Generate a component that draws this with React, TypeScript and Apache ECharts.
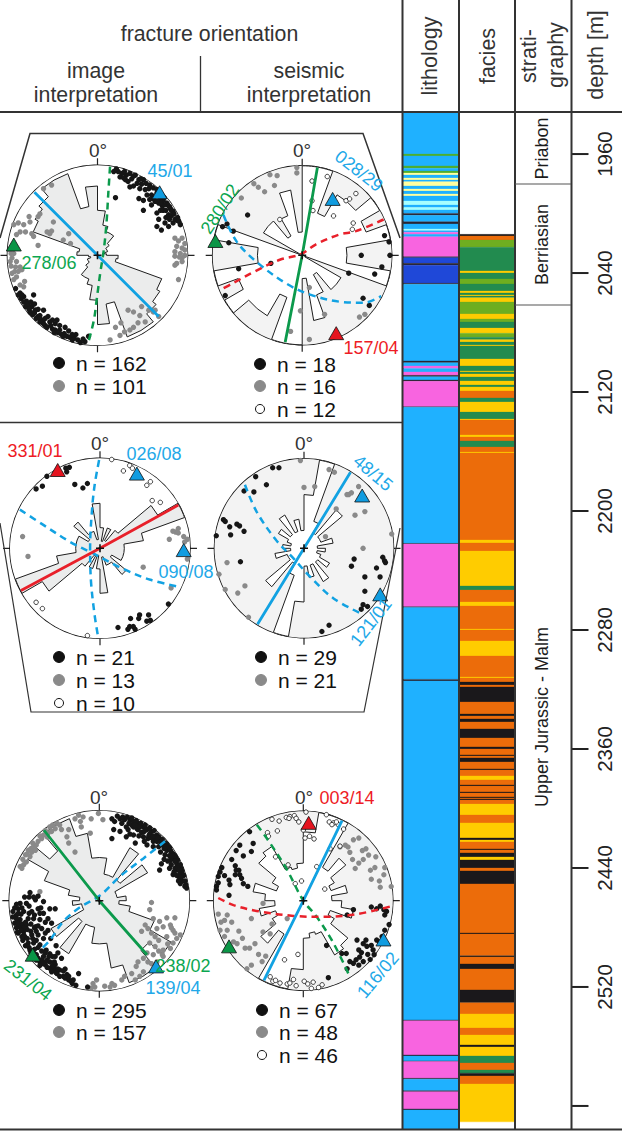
import React, { useEffect, useRef } from "react";
import * as echarts from "echarts";

const FONT = "Liberation Sans";
const TICK_DEPTHS = [1960, 2040, 2120, 2200, 2280, 2360, 2440, 2520, 2600];
const LABEL_DEPTHS = [1960, 2040, 2120, 2200, 2280, 2360, 2440, 2520];
const DEPTH_TOP = 1932.4;
const DEPTH_BOTTOM = 2615.5;

const LITHO_COLORS: Record<string, string> = { b: "#1fb1ff", g: "#4fae2f", y: "#ffffa0", c: "#a6ffff", p: "#f864e0", r: "#1f48d8", k: "#2a2633" };
const FACIES_COLORS: Record<string, string> = { o: "#ec6c0a", l: "#6eae20", d: "#228b4f", y: "#ffcc00", k: "#1a181b" };

const lithology: [number, number, string][] = [
  [1932.4, 1960, "b"], [1960, 1961.3, "g"], [1961.3, 1968, "b"], [1968, 1969.6, "g"], [1969.6, 1971.4, "b"], [1971.4, 1972.8, "g"],
  [1972.8, 1974.1, "y"], [1974.1, 1976.1, "b"], [1976.1, 1977.5, "y"], [1977.5, 1978.6, "b"], [1978.6, 1981.5, "y"], [1981.5, 1983.5, "b"],
  [1983.5, 1984.9, "y"], [1984.9, 1986.9, "b"], [1986.9, 1988.2, "y"], [1988.2, 1991.6, "b"], [1991.6, 1994.3, "c"], [1994.3, 1996, "b"],
  [1996, 1997.6, "c"], [1997.6, 1999.9, "b"], [1999.9, 2001.2, "k"], [2001.2, 2005.5, "b"], [2005.5, 2007, "k"], [2007, 2010.4, "b"],
  [2010.4, 2011.5, "c"], [2011.5, 2012.6, "b"], [2012.6, 2014, "p"], [2014, 2015.6, "b"], [2015.6, 2029, "p"], [2029, 2029.7, "k"],
  [2029.7, 2033.5, "r"], [2033.5, 2034.8, "k"], [2034.8, 2046.9, "r"], [2046.9, 2047.6, "k"], [2047.6, 2099.1, "b"], [2099.1, 2100.3, "k"],
  [2100.3, 2102.5, "b"], [2102.5, 2104.1, "p"], [2104.1, 2106.5, "b"], [2106.5, 2108.8, "p"], [2108.8, 2109.7, "k"], [2109.7, 2111.9, "b"],
  [2111.9, 2112.8, "k"], [2112.8, 2129.9, "p"], [2129.9, 2130.3, "k"], [2130.3, 2221.8, "b"], [2221.8, 2222.2, "k"], [2222.2, 2264.3, "p"],
  [2264.3, 2264.8, "k"], [2264.8, 2313.2, "b"], [2313.2, 2314.3, "k"], [2314.3, 2542.2, "b"], [2542.2, 2542.8, "k"], [2542.8, 2565.7, "p"],
  [2565.7, 2566.4, "k"], [2566.4, 2569.7, "b"], [2569.7, 2570.2, "k"], [2570.2, 2581.4, "p"], [2581.4, 2582, "k"], [2582, 2589.7, "b"],
  [2589.7, 2590.4, "k"], [2590.4, 2602, "p"], [2602, 2602.7, "k"], [2602.7, 2615.5, "b"],
];

const facies: [number, number, string][] = [
  [2014, 2015.1, "k"], [2015.1, 2017.8, "o"], [2017.8, 2022.7, "l"], [2022.7, 2038.6, "d"], [2038.6, 2040, "y"], [2040, 2044, "d"],
  [2044, 2047.4, "l"], [2047.4, 2052.1, "d"], [2052.1, 2053.4, "y"], [2053.4, 2054.8, "d"], [2054.8, 2055.5, "y"], [2055.5, 2056.6, "d"],
  [2056.6, 2059.5, "y"], [2059.5, 2067.5, "l"], [2067.5, 2070.9, "y"], [2070.9, 2072.9, "l"], [2072.9, 2077, "d"], [2077, 2080.5, "y"],
  [2080.5, 2083.2, "l"], [2083.2, 2084.8, "d"], [2084.8, 2086.4, "y"], [2086.4, 2088.4, "d"], [2088.4, 2089, "y"], [2089, 2097.8, "d"],
  [2097.8, 2102.5, "y"], [2102.5, 2105.9, "d"], [2105.9, 2106.5, "y"], [2106.5, 2107.9, "d"], [2107.9, 2109.9, "y"], [2109.9, 2112.6, "d"],
  [2112.6, 2115.3, "y"], [2115.3, 2116.6, "d"], [2116.6, 2119.3, "y"], [2119.3, 2124, "o"], [2124, 2126.7, "d"], [2126.7, 2133.5, "y"],
  [2133.5, 2138.2, "d"], [2138.2, 2138.8, "y"], [2138.8, 2148.9, "o"], [2148.9, 2150.3, "y"], [2150.3, 2152.9, "o"], [2152.9, 2157, "d"],
  [2157, 2160.4, "o"], [2160.4, 2161, "y"], [2161, 2219.5, "o"], [2219.5, 2221.5, "y"], [2221.5, 2226.9, "o"], [2226.9, 2250.4, "y"],
  [2250.4, 2253.1, "d"], [2253.1, 2261.2, "o"], [2261.2, 2263.9, "y"], [2263.9, 2279.4, "o"], [2279.4, 2280, "y"], [2280, 2287.4, "o"],
  [2287.4, 2297.5, "y"], [2297.5, 2311.6, "o"], [2311.6, 2312.3, "y"], [2312.3, 2315, "o"], [2315, 2317, "k"], [2317, 2318.3, "o"],
  [2318.3, 2328.4, "k"], [2328.4, 2336.5, "o"], [2336.5, 2337.8, "k"], [2337.8, 2339.8, "o"], [2339.8, 2341.8, "k"], [2341.8, 2346.5, "o"],
  [2346.5, 2352.6, "k"], [2352.6, 2358.6, "o"], [2358.6, 2360, "k"], [2360, 2364, "o"], [2364, 2364.7, "k"], [2364.7, 2366, "o"],
  [2366, 2368.7, "k"], [2368.7, 2373.4, "o"], [2373.4, 2374.1, "k"], [2374.1, 2378.1, "o"], [2378.1, 2380.8, "y"], [2380.8, 2384.2, "o"],
  [2384.2, 2384.9, "k"], [2384.9, 2388.9, "o"], [2388.9, 2389.6, "k"], [2389.6, 2392.3, "o"], [2392.3, 2392.9, "k"], [2392.9, 2393.6, "o"],
  [2393.6, 2394.3, "k"], [2394.3, 2397, "o"], [2397, 2404.4, "y"], [2404.4, 2409.7, "o"], [2409.7, 2419.8, "y"], [2419.8, 2421.2, "k"],
  [2421.2, 2422.5, "y"], [2422.5, 2427.2, "o"], [2427.2, 2427.9, "k"], [2427.9, 2429.9, "o"], [2429.9, 2432.6, "k"], [2432.6, 2434.6, "y"],
  [2434.6, 2440, "k"], [2440, 2442, "o"], [2442, 2450.7, "k"], [2450.7, 2483.7, "o"], [2483.7, 2484.4, "k"], [2484.4, 2499.1, "o"],
  [2499.1, 2499.8, "k"], [2499.8, 2504.5, "o"], [2504.5, 2507.9, "k"], [2507.9, 2522, "o"], [2522, 2530.7, "k"], [2530.7, 2538.1, "o"],
  [2538.1, 2547.6, "y"], [2547.6, 2552.3, "o"], [2552.3, 2559, "y"], [2559, 2560.3, "k"], [2560.3, 2566.4, "y"], [2566.4, 2571.1, "d"],
  [2571.1, 2575.8, "o"], [2575.8, 2578, "d"], [2578, 2579.8, "k"], [2579.8, 2585.2, "o"], [2585.2, 2610.7, "y"],
];

const stratigraphy: [number, number, string][] = [
  [1932.4, 1980.2, "Priabon"], [1980.2, 2061.5, "Berriasian"], [2061.5, 2615.5, "Upper Jurassic - Malm"],
];

// Rose petals: radius (fraction of the rim) per 10 degree bin, 0-180, repeated for 180-360.
const rose1 = [.5, .34, .28, .28, .17, .12, .12, .08, .1, .23, .21, .76, .8, .85, .965, .965, .55, .77];
const rose2 = [1.1, 1.1, .5, .78, .78, 1.1, .76, 1.1, .5, .5, 1.1, .03, .5, .5, .25, .47, .74, .26];
const rose3 = [.23, .08, .24, .1, .26, .74, 1, .49, .27, .27, .27, .27, .15, .38, .2, .2, .1, .5];
const rose4 = [.6, 1.1, .32, .2, .56, .2, .2, .33, .15, .24, .15, .2, .33, .2, .43, .2, .33, .2];
const rose5 = [.48, .3, .3, .68, .3, .62, .2, .2, .3, .22, .35, .65, .92, .72, .97, .97, .76, .48];
const rose6 = [.77, 1.1, 1.1, .43, .62, .4, .33, .5, .32, .43, .57, .32, .4, .65, .7, .4, .37, .42];

// Poles: [east, north] with rim = 100.
const net1Black = [[18,93],[23,93],[27,91],[32,89],[25,87],[31,84],[34,82],[42,89],[36,76],[40,77],[51,84],[47,74],[53,73],[57,74],[46,63],[55,67],[51,61],[60,67],[66,69],[70,63],[73,61],[68,58],[77,58],[81,52],[60,56],[51,50],[66,47],[73,50],[79,45],[84,49],[88,39],[92,34],[75,36],[66,32],[71,28],[79,32],[84,36],[20,64],[64,60],[72,55],[76,50],[62,63],[58,62],[70,50],[82,44],[86,40],[69,66],[44,80],[38,85],[29,86],[49,79],
  [21,96],[30,93],[36,91],[40,88],[46,84],[48,85],[54,80],[58,78],[62,75],[66,73],[70,68],[74,64],[78,56],[82,50],[85,46],[89,42],[90,38],[80,54],[74,56],[70,58],[66,60],[76,42],[68,40],[80,40],
  [-91,-37],[-86,-42],[-82,-46],[-85,-48],[-79,-51],[-80,-57],[-73,-57],[-75,-63],[-69,-61],[-66,-68],[-60,-61],[-71,-44],[-64,-67],[-53,-74],[-42,-83],[-31,-91],[-19,-97],[-47,-83],[-58,-78],[-69,-61],[-77,-56],[-37,-87],[-26,-92],[-14,-96],[-47,-76],[-60,-72],[-55,-68],[-45,-72],[-36,-80],[-66,-60],[-72,-66],[-68,-70],[-62,-74],[-50,-82],[-40,-88],[-32,-84],[-24,-88],[-10,-90],
  [-88,-44],[-84,-44],[-82,-52],[-78,-54],[-76,-60],[-74,-64],[-70,-64],[-64,-70],[-60,-76],[-56,-80],[-52,-78],[-48,-86],[-44,-86],[-38,-90],[-34,-90],[-28,-94],[-22,-94],[-16,-93],[-64,-74],[-58,-70],[-50,-72],[-42,-78],[-28,-88],[-74,-52],[-70,-54]];
const net1Grey = [[-93,34],[-88,36],[-82,34],[-76,43],[-75,37],[-66,43],[-64,46],[-86,26],[-80,26],[-73,24],[-71,21],[-90,23],[-66,11],[-60,74],[-51,78],[-49,37],[-56,26],[-51,27],[-53,24],[-38,17],[-32,24],[-30,13],[-97,6],[-93,2],[-95,-3],[-97,-7],[-90,-7],[-91,-13],[-86,-13],[-95,-20],[-90,-24],[-84,-16],[-93,-27],[-81,-29],[-86,-33],[-82,-35],
  [86,19],[94,19],[97,13],[88,10],[94,8],[97,6],[86,4],[92,2],[97,0],[94,-3],[86,-1],[88,-9],[94,-7],[90,-27],[86,-11],[34,-61],[40,-63],[49,-57],[57,-61],[62,-63],[68,-68],[47,-67],[64,-61],[25,-89],[36,-83],[14,-94],[53,-74],[20,-80],[26,-75],[30,-85],[45,-75],[40,-80],[-96,-12],[-92,-18],[-88,-18],[-92,8],[-96,2],[90,16],[91,-2]];
const net2Black = [[-61,45],[-89,32],[-84,35],[-77,27],[-82,14],[-71,-15],[-35,-9],[-86,-45],[52,-20],[66,0],[81,-21],[89,-13],[92,22],[97,15],[98,0],[68,-48],[75,-56]];
const net2Grey = [[-36,90],[-28,89],[-54,80],[-49,76],[-42,71],[-31,78],[-68,64],[-6,98],[-6,92],[8,-36],[-2,-62],[25,-66],[64,-69],[70,-66],[-13,-85],[8,-94]];
const net2White = [[11,83],[28,88],[11,61],[12,50],[-25,40],[35,44],[49,61],[53,63],[60,69],[57,36],[56,29]];
const net3Black = [[-38,89],[-37,85],[-59,80],[-71,66],[-64,69],[-28,71],[-19,67],[-14,72],[20,-88],[31,-90],[34,-78],[39,-90],[37,-87],[44,-74],[43,-78],[52,-81],[54,-74],[56,-80],[76,-62],[33,-87],[-34,90]];
const net3Grey = [[-86,13],[-80,-9],[87,22],[84,18],[93,13],[77,10],[97,10],[97,-12],[48,-21],[79,-44],[87,17],[94,7],[81,19]];
const net3White = [[13,99],[26,86],[33,92],[36,89],[52,70],[56,74],[58,53],[67,51],[-71,-60],[-64,-67],[-14,-97]];
const net4Black = [[-35,90],[-28,90],[-54,80],[-42,71],[-67,64],[-56,63],[-90,32],[-88,30],[-83,24],[-75,27],[-72,25],[-98,14],[-82,15],[-67,19],[-71,-15],[56,-12],[53,-20],[81,-22],[88,-10],[90,-14],[91,-16],[68,-32],[85,-32],[68,-48],[66,-63],[64,-68],[71,-65],[28,-86],[20,-93]];
const net4Grey = [[-4,98],[28,88],[34,85],[0,68],[12,69],[61,69],[50,60],[53,62],[68,41],[57,37],[36,44],[24,13],[66,0],[98,16],[-86,-16],[-95,-29],[-88,-46],[-74,-50],[-66,-42],[-62,-77],[48,60]];
const net5Black = [[14,91],[17,88],[23,91],[28,90],[34,90],[38,88],[43,86],[49,82],[53,79],[58,77],[64,73],[67,69],[73,64],[77,60],[80,54],[82,47],[86,41],[91,36],[93,29],[95,16],[97,14],[16,79],[23,77],[14,69],[30,71],[32,79],[38,73],[40,64],[43,79],[49,71],[54,69],[53,62],[60,66],[66,60],[73,51],[69,41],[67,34],[79,45],[84,36],[82,29],[88,27],[86,34],[90,19],[38,82],[25,86],[55,72],[62,68],[70,62],[75,56],[78,50],[47,76],[36,84],[30,82],[42,80],[58,70],[64,66],[72,58],[85,48],[88,38],[90,30],[92,22],[86,28],[80,40],[76,44],
  [20,94],[26,93],[31,93],[36,92],[41,89],[46,86],[51,84],[56,81],[61,78],[66,71],[70,68],[75,63],[78,59],[82,52],[84,50],[87,45],[90,40],[92,33],[94,28],[95,22],[96,18],[33,86],[40,84],[45,82],[50,77],[56,74],[60,72],[65,70],[68,65],[74,60],[79,56],[81,50],[84,44],[87,36],[89,34],[91,26],[88,22],[83,32],[78,36],[72,46],[68,54],[60,60],[50,66],[44,72],[34,74],
  [-83,4],[-73,4],[-71,1],[-88,-3],[-81,-3],[-62,-1],[-55,-9],[-49,-9],[-96,-12],[-92,-16],[-84,-12],[-75,-12],[-68,-9],[-62,-14],[-57,-20],[-53,-25],[-66,-21],[-73,-20],[-79,-20],[-88,-21],[-94,-25],[-96,-18],[-88,-29],[-81,-27],[-71,-29],[-64,-31],[-57,-33],[-90,-36],[-83,-40],[-75,-38],[-68,-38],[-62,-42],[-79,-47],[-73,-47],[-66,-49],[-59,-55],[-55,-59],[-77,-55],[-70,-60],[-62,-62],[-55,-68],[-49,-71],[-44,-77],[-40,-84],[-34,-88],[-29,-88],[-23,-81],[-49,-62],[-42,-64],[-66,-68],[-60,-71],[-55,-75],[-47,-81],[-31,-90],[-13,-96],[-90,-9],[-78,-6],[-65,-8],[-87,-15],[-80,-32],[-70,-34],[-60,-36],[-92,-30],[-85,-44],[-72,-54],[-74,-62],[-68,-52],[-64,-56],[-58,-66],[-52,-62],[-50,-76],[-38,-76],[-36,-82],[-92,-24],[-78,4],[-68,5],[-77,9],[-84,-34],
  [-92,-4],[-94,-8],[-90,-14],[-86,-8],[-92,-20],[-86,-26],[-90,-26],[-84,-30],[-87,-33],[-91,-35],[-84,-38],[-80,-42],[-86,-40],[-82,-50],[-78,-52],[-76,-58],[-72,-60],[-68,-64],[-70,-66],[-64,-66],[-60,-68],[-62,-70],[-66,-72],[-58,-74],[-52,-72],[-53,-79],[-48,-80],[-46,-76],[-44,-84],[-38,-86],[-40,-78],[-34,-84],[-30,-92],[-26,-94],[-56,-62],[-60,-58],[-70,-44],[-74,-42],[-76,-34],[-72,-30],[-68,-28],[-76,-26],[-82,-24],[-78,-14],[-72,-16],[-66,-14],[-60,-24],[-54,-42],[-48,-50],[-46,-58],[-50,-68]];
const net5Grey = [[-23,95],[-18,93],[-21,88],[-27,91],[-1,97],[-9,91],[4,90],[-10,75],[-20,82],[-34,79],[-36,71],[-34,64],[-27,54],[-55,82],[-49,80],[-53,77],[-57,75],[-62,73],[-68,66],[-64,69],[-73,60],[-70,62],[-79,56],[-75,54],[-82,51],[-84,40],[-81,43],[-88,38],[-86,36],[-47,86],[-66,10],[-42,79],[-58,71],[-71,56],[-77,49],
  [58,-2],[56,-10],[60,-20],[75,-19],[84,-19],[67,-23],[71,-29],[79,-27],[51,-27],[54,-31],[64,-31],[82,-33],[90,-38],[47,-34],[58,-36],[75,-40],[86,-42],[66,-44],[82,-47],[79,-53],[71,-55],[56,-47],[62,-51],[53,-58],[49,-64],[54,-68],[43,-68],[41,-73],[49,-79],[64,-68],[71,-62],[36,-81],[28,-84],[25,-88],[40,-88],[14,-92],[17,-94],[-3,-88],[-7,-92],[-5,-96],[6,-95],[12,-96],[-9,-97],[45,-84],[70,-60],[76,-48],[84,-36],[60,-60],[58,-70],[66,-56],[80,-30],[62,-40],[-60,78],[-66,72],[-74,64],[-80,52],[-52,84],[-44,84],[-76,58],[-85,46]];
const net6Black = [[-60,77],[-71,62],[-75,56],[-67,50],[-56,64],[-58,55],[-80,46],[-76,39],[-91,37],[-93,32],[-95,27],[-75,34],[-72,34],[-71,29],[-76,29],[-69,25],[-67,19],[-62,16],[-83,23],[-82,18],[-83,6],[-97,16],[-97,12],[82,-9],[76,-7],[90,-10],[91,-16],[56,-10],[49,-16],[26,-50],[43,-59],[48,-59],[60,-44],[67,-48],[62,-55],[71,-51],[76,-50],[82,-44],[88,-40],[91,-33],[97,-27],[63,-63],[56,-70],[62,-72],[67,-68],[75,-66],[80,-61],[49,-76],[28,-86],[-95,20],[-88,28],[86,-6],[93,-12],[72,-60],[59,-66],[65,-58],[52,-68],[78,-55],[85,-46],[70,-44]];
const net6Grey = [[56,68],[62,70],[50,60],[41,60],[70,58],[55,46],[67,46],[73,51],[81,49],[58,36],[75,34],[80,37],[91,37],[90,29],[76,24],[86,15],[99,16],[-95,-15],[-85,-16],[-58,-20],[-45,-3],[-18,-20],[-93,-33],[-85,-33],[-88,-40],[-74,-48],[-65,-53],[-54,-48],[-60,-53],[-58,-72],[-63,-76],[-35,-26],[-37,-37],[-45,-35],[66,56],[62,42],[47,62],[52,54],[-72,-34],[-92,-24],[-50,-60],[-78,-46],[-68,-42],[85,22],[-80,-24],[-88,-22],[-42,-62],[-46,-68]];
const net6White = [[-35,91],[-27,89],[-19,93],[-15,94],[-10,95],[-8,92],[3,99],[26,97],[29,88],[34,87],[39,85],[45,80],[-40,76],[-39,72],[-29,78],[0,79],[2,70],[7,72],[12,69],[30,58],[41,61],[-31,49],[-17,40],[-9,19],[-2,22],[15,38],[24,13],[-6,-60],[-21,-66],[-34,-90],[-31,-89],[-18,-93],[-15,-92],[1,-90],[-8,-95],[9,-98],[17,-97],[21,-94],[37,88],[32,85],[-16,92],[-5,88],[3,83],[-37,-85],[-26,-92],[5,-93],[11,-91],[-11,-88]];

// Great circles: [east, north] along each trace.
const net1Blue = [[-70,70],[0,0],[68,-68]];
const net1Green = [[14,99],[12,69],[10,36],[7,6],[3,-20],[-1,-50],[-4,-72],[-10,-96]];
const net2Green = [[17,98],[0,0],[-19,-97]];
const net2Red = [[91,40],[60,27],[41,23],[15,12],[-2,1],[-25,-5],[-53,-18],[-77,-31],[-92,-39]];
const net2BlueCurve = [[-88,45],[-73,15],[-49,-9],[-17,-32],[9,-44],[43,-52],[69,-53],[89,-46]];
const net3Red = [[87,48],[0,0],[-88,-47]];
const net3BlueA = [[-1,98],[-6,70],[-9,41],[-11,0],[-10,-37],[-6,-74],[-2,-99]];
const net3BlueB = [[-89,43],[-63,26],[-33,7],[-7,-6],[26,-23],[56,-35],[89,-43]];
const net4Blue = [[52,85],[0,0],[-52,-85]];
const net4BlueCurve = [[-66,71],[-53,41],[-31,9],[-12,-11],[7,-32],[33,-56],[66,-74]];
const net5Green = [[-62,79],[0,0],[53,-60]];
const net5BlueCurve = [[73,66],[49,47],[23,27],[1,6],[-21,-7],[-40,-23],[-55,-44],[-66,-55]];
const net6Blue = [[44,91],[0,0],[-44,-89]];
const net6GreenCurve = [[-52,85],[-41,70],[-19,36],[0,0],[15,-18],[34,-48],[52,-85]];
const net6Red = [[-95,3],[-78,-5],[-49,-12],[-11,-17],[22,-18],[60,-15],[99,-6]];

const BLUE = "#12a2e2", GREEN = "#0c9a4c", RED = "#e8202a";
const TRI_BLUE = "#109ce0", TRI_GREEN = "#0a9546", TRI_RED = "#e5141f";
const TXT_BLUE = "#22a8e8", TXT_GREEN = "#0ca650", TXT_RED = "#ee1c25";

type Pt = number[];
const nets = [
  { center: [97.5, 255.3], radius: 90, rose: rose1, disc: "#ffffff", fill: "#ebecec", black: net1Black, grey: net1Grey, white: [] as Pt[],
    lines: [{ d: net1Green, c: GREEN, dash: true }, { d: net1Blue, c: BLUE, dash: false }],
    tris: [[69, 70, TRI_BLUE], [-93, 12, TRI_GREEN]] },
  { center: [302.2, 255.3], radius: 89.5, rose: rose2, disc: "#f3f3f3", fill: "#ffffff", black: net2Black, grey: net2Grey, white: net2White,
    lines: [{ d: net2Green, c: GREEN, dash: false }, { d: net2Red, c: RED, dash: true }, { d: net2BlueCurve, c: BLUE, dash: true }],
    tris: [[34, 63, TRI_BLUE], [-97, 16, TRI_GREEN], [38, -87, TRI_RED]] },
  { center: [100, 548.3], radius: 90, rose: rose3, disc: "#ffffff", fill: "#ebecec", black: net3Black, grey: net3Grey, white: net3White,
    lines: [{ d: net3BlueA, c: BLUE, dash: true }, { d: net3BlueB, c: BLUE, dash: true }, { d: net3Red, c: RED, dash: false }],
    tris: [[-47, 87, TRI_RED], [41, 83, TRI_BLUE], [93, -2, TRI_BLUE]] },
  { center: [304, 548.3], radius: 89.5, rose: rose4, disc: "#f3f3f3", fill: "#ffffff", black: net4Black, grey: net4Grey, white: [] as Pt[],
    lines: [{ d: net4BlueCurve, c: BLUE, dash: true }, { d: net4Blue, c: BLUE, dash: false }],
    tris: [[65, 59, TRI_BLUE], [86, -52, TRI_BLUE]] },
  { center: [99.3, 900.7], radius: 90, rose: rose5, disc: "#ffffff", fill: "#ebecec", black: net5Black, grey: net5Grey, white: [] as Pt[],
    lines: [{ d: net5BlueCurve, c: BLUE, dash: true }, { d: net5Green, c: GREEN, dash: false }],
    tris: [[63, -73, TRI_BLUE], [-74, -60, TRI_GREEN]] },
  { center: [303.3, 900.7], radius: 89.5, rose: rose6, disc: "#f3f3f3", fill: "#ffffff", black: net6Black, grey: net6Grey, white: net6White,
    lines: [{ d: net6GreenCurve, c: GREEN, dash: true }, { d: net6Red, c: RED, dash: true }, { d: net6Blue, c: BLUE, dash: false }],
    tris: [[6, 87, TRI_RED], [91, -44, TRI_BLUE], [-83, -51, TRI_GREEN]] },
];

const headerTexts: [string, number, number, number, number][] = [
  ["fracture orientation", 209.5, 34, 21.3, 0], ["image", 96, 71, 21.3, 0], ["interpretation", 96, 95, 21.3, 0],
  ["seismic", 309, 71, 21.3, 0], ["interpretation", 309, 95, 21.3, 0],
  ["lithology", 430, 56, 21.5, 90], ["facies", 488, 56, 21.5, 90], ["strati-", 529, 56, 21.5, 90], ["graphy", 556, 55, 21.5, 90], ["depth [m]", 596, 55, 21.5, 90],
];
const zeroLabels = [[98, 150], [302, 150], [100, 443], [304, 443], [99, 797], [304, 797]];
const attitudeLabels: [string, number, number, string, number][] = [
  ["45/01", 170, 171, TXT_BLUE, 0], ["278/06", 49, 263, TXT_GREEN, 0], ["028/29", 359, 171, TXT_BLUE, -38], ["280/02", 220, 209, TXT_GREEN, 57], ["157/04", 371, 348, TXT_RED, 0],
  ["331/01", 35, 451, TXT_RED, 0], ["026/08", 154, 454, TXT_BLUE, 0], ["090/08", 186, 572, TXT_BLUE, 0], ["48/15", 373, 473, TXT_BLUE, -40], ["121/01", 371, 622, TXT_BLUE, 52],
  ["231/04", 28, 980, TXT_GREEN, -38], ["139/04", 173, 988, TXT_BLUE, 0], ["238/02", 183, 966, TXT_GREEN, 0], ["003/14", 347, 798, TXT_RED, 0], ["116/02", 378, 975, TXT_BLUE, 50],
];
const countLabels: [string, number, number, string][] = [
  ["n = 162", 76, 363, "#111"], ["n = 101", 76, 386, "#8a8a8a"],
  ["n = 18", 277, 364, "#111"], ["n = 16", 277, 386, "#8a8a8a"], ["n = 12", 277, 409, "#fff"],
  ["n = 21", 76, 657, "#111"], ["n = 13", 76, 680, "#8a8a8a"], ["n = 10", 76, 703, "#fff"],
  ["n = 29", 278, 657, "#111"], ["n = 21", 278, 680, "#8a8a8a"],
  ["n = 295", 76, 1010, "#111"], ["n = 157", 76, 1032, "#8a8a8a"],
  ["n = 67", 279, 1010, "#111"], ["n = 48", 279, 1032, "#8a8a8a"], ["n = 46", 279, 1055, "#fff"],
];

const polarOf = (p: Pt) => {
  const r = Math.min(Math.hypot(p[0], p[1]), 99.5);
  const az = ((Math.atan2(p[0], p[1]) * 180) / Math.PI + 360) % 360;
  return [r, az];
};

function buildOption() {
  const series: any[] = [];
  const band = (name: string, rows: [number, number, string][], col: number, colors: Record<string, string>) => ({
    type: "custom", name, coordinateSystem: "cartesian2d", xAxisIndex: 0, yAxisIndex: 0, silent: true, clip: false, z: 2,
    encode: { y: [0, 1] }, data: rows.map((r) => [r[0], r[1]]),
    renderItem: (params: any, api: any) => {
      const a = api.coord([col, api.value(0)]);
      const b = api.coord([col + 1, api.value(1)]);
      const fill = colors[rows[params.dataIndex][2]];
      return { type: "rect", shape: { x: a[0], y: a[1], width: b[0] - a[0], height: b[1] - a[1] }, style: { fill, stroke: fill, lineWidth: 0.3 } };
    },
  });
  series.push(band("lithology", lithology, 0, LITHO_COLORS));
  series.push(band("facies", facies, 1, FACIES_COLORS));
  series.push({
    type: "custom", name: "stratigraphy", coordinateSystem: "cartesian2d", silent: true, clip: false, z: 3,
    encode: { y: [0, 1] }, data: stratigraphy.map((r) => [r[0], r[1]]),
    renderItem: (params: any, api: any) => {
      const a = api.coord([2.47, (api.value(0) + api.value(1)) / 2]);
      return { type: "text", x: a[0], y: a[1], rotation: Math.PI / 2,
        style: { text: stratigraphy[params.dataIndex][2], fontFamily: FONT, fontSize: 18, fill: "#1c1c1c", align: "center", verticalAlign: "middle" } };
    },
  });
  series.push({
    type: "custom", name: "depth ticks", coordinateSystem: "cartesian2d", silent: true, clip: false, z: 4,
    encode: { y: 0 }, data: TICK_DEPTHS.map((d) => [d]),
    renderItem: (_p: any, api: any) => {
      const a = api.coord([3, api.value(0)]);
      return { type: "line", shape: { x1: a[0], y1: a[1], x2: a[0] + 17, y2: a[1] }, style: { stroke: "#222", lineWidth: 2 } };
    },
  });

  nets.forEach((net, i) => {
    const common = { coordinateSystem: "polar", polarIndex: i, silent: true };
    series.push({
      ...common, type: "custom", z: 1, clip: false, encode: { radius: 0, angle: 1 }, data: [[100, 0]],
      renderItem: (_p: any, api: any) => {
        const pts: number[][] = [];
        for (let a = 0; a < 360; a += 3) pts.push(api.coord([100, a]));
        return { type: "polygon", shape: { points: pts }, style: { fill: net.disc } };
      },
    });
    series.push({
      ...common, type: "custom", z: 2, clip: false, encode: { radius: 0, angle: 1 },
      data: net.rose.map((r, k) => [Math.min(r, 1) * 100, k * 10]),
      renderItem: (params: any, api: any) => {
        if (params.dataIndex !== 0) return null;
        const all = net.rose.concat(net.rose);
        const pts: number[][] = [];
        all.forEach((v, k) => {
          const a0 = k * 10;
          const r = Math.min(v, 1) * 100;
          if (r >= 100) for (let s = 0; s <= 10; s += 2) pts.push(api.coord([r, a0 + s]));
          else { pts.push(api.coord([r, a0])); pts.push(api.coord([r, a0 + 10])); }
        });
        return { type: "polygon", shape: { points: pts }, style: { fill: net.fill, stroke: "#1e1e1e", lineWidth: 1 } };
      },
    });
    series.push({ ...common, type: "scatter", z: 3, symbolSize: 5.4, itemStyle: { color: "#8a8a8a", opacity: 1 }, data: net.grey.map(polarOf) });
    series.push({ ...common, type: "scatter", z: 4, symbolSize: 5.4, itemStyle: { color: "#161616", opacity: 1 }, data: net.black.map(polarOf) });
    series.push({ ...common, type: "scatter", z: 4, symbolSize: 4.5, itemStyle: { color: "#fff", borderColor: "#111", borderWidth: 0.8, opacity: 1 }, data: net.white.map(polarOf) });
    net.lines.forEach((l) => {
      series.push({
        ...common, type: "line", z: 5, showSymbol: false, smooth: l.dash ? 0.35 : false, clip: false,
        lineStyle: { color: l.c, width: l.dash ? 2.5 : 2.8, type: l.dash ? [7, 5] : "solid", opacity: 1 }, data: l.d.map(polarOf),
      });
    });
    series.push({
      ...common, type: "scatter", z: 6, symbol: "path://M10 0L20 18L0 18Z", symbolSize: [15, 13],
      data: net.tris.map((t) => ({ value: polarOf([t[0] as number, t[1] as number]), itemStyle: { color: t[2] as string, borderColor: "#111", borderWidth: 0.8, opacity: 1 } })),
    });
    series.push({
      ...common, type: "scatter", z: 6, symbol: "path://M4 0h2v4h4v2h-4v4h-2v-4h-4v-2h4z", symbolSize: 8, itemStyle: { color: "#111", opacity: 1 }, data: [[0, 0]],
    });
  });

  const line = (x1: number, y1: number, x2: number, y2: number, w = 2, c = "#333") => ({ type: "line", z: 50, shape: { x1, y1, x2, y2 }, style: { stroke: c, lineWidth: w } });
  const text = (t: string, x: number, y: number, size: number, fill: string, deg = 0, align = "center") => ({
    type: "text", z: 60, x, y, rotation: (deg * Math.PI) / 180,
    style: { text: t, fontFamily: FONT, fontSize: size, fill, align, verticalAlign: "middle" },
  });
  const graphics: any[] = [
    line(0, 112, 622, 112), line(0, 1129.5, 622, 1129.5), line(402.5, 0, 402.5, 1130), line(459, 0, 459, 1130), line(515, 0, 515, 1130), line(571.5, 0, 571.5, 1130),
    line(200.5, 56, 200.5, 112, 1.3), line(0, 422.5, 402, 422.5, 1.5), line(515, 184, 571, 184, 1.2, "#555"), line(515, 305, 571, 305, 1.2, "#555"),
    { type: "polyline", z: 50, shape: { points: [[0, 238], [30, 133.5], [363, 133.5], [400, 238]] }, style: { stroke: "#333", lineWidth: 1.5, fill: "none" } },
    { type: "polyline", z: 50, shape: { points: [[0, 523], [31, 712], [364, 712], [400, 528]] }, style: { stroke: "#333", lineWidth: 1.2, fill: "none" } },
  ];
  headerTexts.forEach((h) => graphics.push(text(h[0], h[1], h[2], h[3], "#333", h[4])));
  zeroLabels.forEach((z) => graphics.push(text("0°", z[0], z[1], 19, "#333")));
  attitudeLabels.forEach((a) => graphics.push(text(a[0], a[1], a[2], 18, a[3], a[4])));
  countLabels.forEach((c) => {
    graphics.push(text(c[0], c[1], c[2], 21, "#111", 0, "left"));
    graphics.push({ type: "circle", z: 60, shape: { cx: c[1] - 17, cy: c[2], r: c[3] === "#fff" ? 4.5 : 5.5 },
      style: { fill: c[3], stroke: c[3] === "#fff" ? "#111" : c[3], lineWidth: 1 } });
  });

  return {
    animation: false,
    backgroundColor: "#ffffff",
    textStyle: { fontFamily: FONT },
    grid: { left: 403, right: 50.5, top: 113, bottom: 2, containLabel: false },
    xAxis: { type: "value", min: 0, max: 3, show: false },
    yAxis: {
      type: "value", inverse: true, position: "right", min: DEPTH_TOP, max: DEPTH_BOTTOM,
      axisLine: { show: true, lineStyle: { color: "#333", width: 2 } },
      axisTick: { show: false },
      axisLabel: { show: true, rotate: 90, margin: 22, customValues: LABEL_DEPTHS, formatter: (v: number) => String(v), fontFamily: FONT, fontSize: 20.5, color: "#222" },
      splitLine: { show: false },
    },
    polar: nets.map((n) => ({ center: n.center, radius: n.radius })),
    angleAxis: nets.map((_, i) => ({
      polarIndex: i, type: "value", min: 0, max: 360, interval: 90, startAngle: 90, clockwise: true,
      axisLine: { show: true, lineStyle: { color: "#111", width: 1.6 } },
      axisTick: { show: true, length: 7, lineStyle: { color: "#222", width: 1.2 } },
      axisLabel: { show: false }, splitLine: { show: false },
    })),
    radiusAxis: nets.map((_, i) => ({
      polarIndex: i, type: "value", min: 0, max: 100, axisLine: { show: false }, axisTick: { show: false }, axisLabel: { show: false }, splitLine: { show: false },
    })),
    graphic: { elements: graphics },
    series,
  };
}

export default function App() {
  const ref = useRef<HTMLDivElement>(null);
  useEffect(() => {
    document.body.style.margin = "0";
    document.body.style.background = "#fff";
    const chart = echarts.init(ref.current!, undefined, { renderer: "svg" });
    chart.setOption(buildOption() as any);
    return () => chart.dispose();
  }, []);
  return <div ref={ref} style={{ width: 622, height: 1131, overflow: "hidden" }} />;
}
